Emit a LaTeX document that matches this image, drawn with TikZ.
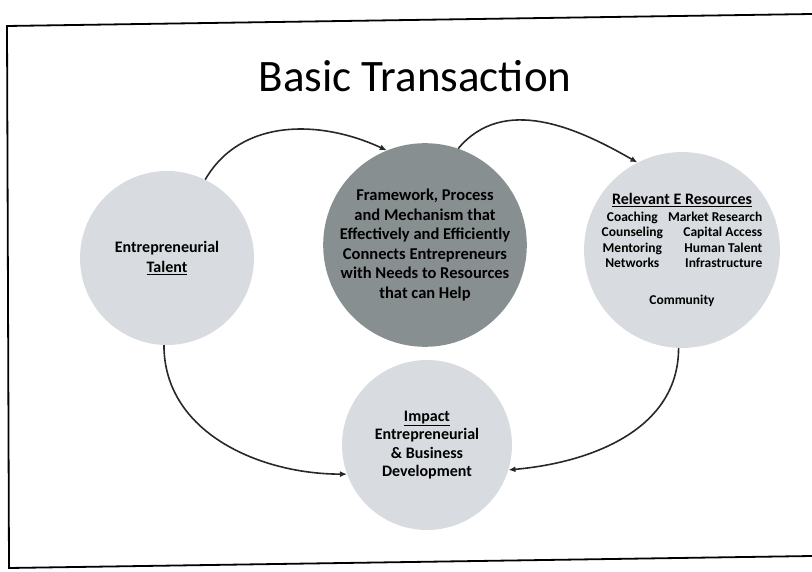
\documentclass[tikz,border=0pt]{standalone}
\usepackage{fontspec}
\setmainfont{Carlito}
\usetikzlibrary{arrows.meta}
\definecolor{discgray}{RGB}{216,220,224}
\definecolor{coregray}{RGB}{136,143,144}
\definecolor{linegray}{RGB}{40,40,40}
\tikzset{
  disc/.style = {circle, fill=discgray, inner sep=0pt, align=center,
                 font=\bfseries\fontsize{16}{18.5}\selectfont},
  flow/.style = {-{Latex[length=7pt,width=6pt]}, line width=1.6pt, linegray}
}

\begin{document}
\begin{tikzpicture}[x=1pt, y=1pt]
    \useasboundingbox (0,0) rectangle (812,571);
    % slide frame and heading
    \draw[line width=1.8pt] (812,557) -- (7,545) -- (9,3) -- (812,15);
    \node[anchor=base, font=\fontsize{45}{50}\selectfont] (title) at (415,479) {Basic Transaction};

    % Circles
    \node[disc, minimum size=174pt] (talent) at (167,313) {Entrepreneurial\\[1pt]\underline{Talent}};
    \node[disc, minimum size=194pt, fill=coregray,
          font=\bfseries\fontsize{16.5}{19.5}\selectfont] (core) at (425,326)
          {Framework, Process\\and Mechanism that\\Effectively and Efficiently\\Connects Entrepreneurs\\with Needs to Resources\\that can Help};
    \node[disc, minimum size=176pt,
          font=\bfseries\fontsize{13.5}{15.3}\selectfont] (res) at (682,321)
          {{\fontsize{16}{17}\selectfont\underline{Relevant E Resources}}\\[3pt]
           \begin{tabular}{@{}c@{\hspace{5pt}}r@{}}
             Coaching   & Market Research\\
             Counseling & Capital Access\\
             Mentoring  & Human Talent\\
             Networks   & Infrastructure
           \end{tabular}\\[22pt]
           Community};
    \node[disc, minimum size=170pt] (impact) at (427,126)
          {\underline{Impact}\\Entrepreneurial\\\& Business\\Development};

    \draw[flow] (talent.64)  to[out=60,in=155] (core.112);
    \draw[flow] (core.71)    to[out=50,in=150] (res.117);
    \draw[flow] (talent.268) to[out=-90,in=180] (impact.200);
    \draw[flow] (res.268)    to[out=-90,in=5]   (impact.-17);
\end{tikzpicture}
\end{document}
